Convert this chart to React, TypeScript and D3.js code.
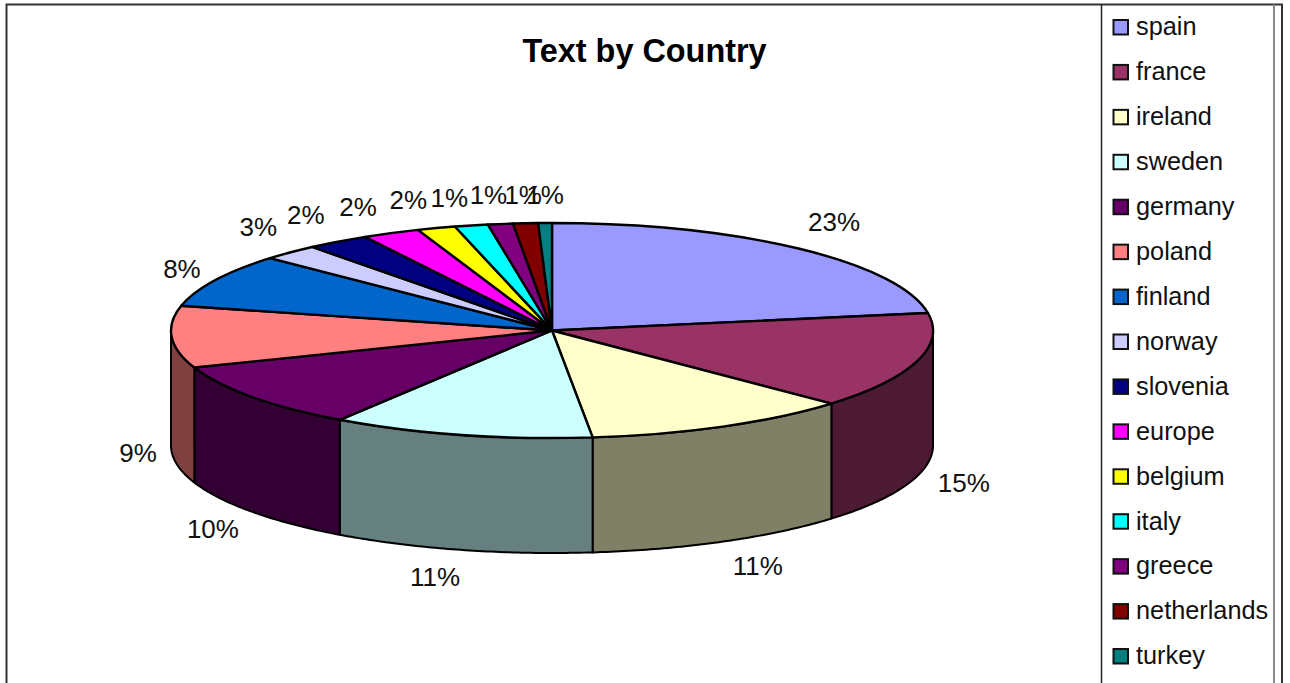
import React from "react";
import * as d3 from "d3";

const countries = ["spain","france","ireland","sweden","germany","poland","finland","norway","slovenia","europe","belgium","italy","greece","netherlands","turkey"];
const shares = [22.4,14.5,11.4,11.1,10.0,9.3,8.04,2.42,2.68,2.44,1.62,1.41,1.06,1.05,0.58];
const percentLabels = ["23%","15%","11%","11%","10%","9%","8%","3%","2%","2%","2%","1%","1%","1%","1%"];
const palette = ["#9999FF","#993366","#FFFFCC","#CCFFFF","#660066","#FF8080","#0066CC","#CCCCFF","#000080","#FF00FF","#FFFF00","#00FFFF","#800080","#800000","#008080"];
const labelNudgeX = [35.5,47,35,-25.7,-39.5,-33.7,-33,-32,-32,-33,-28,-22,-12,-2.4,0];
const labelNudgeY = [-26.5,6,24,27,17.4,1,-11.6,-25.7,-26.6,-26,-28.5,-27.5,-29,-28,-28];

const W = 1290, H = 683;
const cx = 552, cy = 330.5, rx = 381, ry = 107.5, depth = 115;
const font = "'Liberation Sans', Arial, sans-serif";

const px = (t: number) => cx + rx * Math.sin(t);
const py = (t: number) => cy - ry * Math.cos(t);

export default function App() {
  const slices = d3.pie<number>().sort(null)(shares);
  const arc = d3.arc<any>().innerRadius(0).outerRadius(rx);
  const legendY = d3.scaleLinear().domain([0, countries.length - 1]).range([27, 656]);
  const sides = slices.map((s, i) => {
    const a = Math.max(s.startAngle, Math.PI / 2);
    const b = Math.min(s.endAngle, (3 * Math.PI) / 2);
    if (b <= a) return null;
    const p = d3.path();
    const ts = d3.range(0, 61).map((k) => a + ((b - a) * k) / 60);
    ts.forEach((t, k) => (k ? p.lineTo(px(t), py(t)) : p.moveTo(px(t), py(t))));
    ts.slice().reverse().forEach((t) => p.lineTo(px(t), py(t) + depth));
    p.closePath();
    const c = d3.rgb(palette[i]);
    const fill = d3.rgb(c.r / 2, c.g / 2, c.b / 2).formatHex();
    return <path key={i} d={p.toString()} fill={fill} stroke="#000" strokeWidth={2} strokeLinejoin="round" />;
  });
  return (
    <svg width={W} height={H} viewBox={`0 0 ${W} ${H}`} style={{ position: "absolute", left: 0, top: 0, display: "block", background: "#fff" }}>
      <rect x={6.5} y={4.5} width={1275.5} height={H + 10} fill="#fff" stroke="#333" strokeWidth={2} />
      <line x1={1101.5} x2={1101.5} y1={4.5} y2={H} stroke="#222" strokeWidth={1.5} />
      <line x1={1274} x2={1274} y1={4.5} y2={H} stroke="#888" strokeWidth={2} />
      <text x={644.5} y={51} dy="0.35em" textAnchor="middle" fontFamily={font} fontWeight="bold" fontSize={32.4} fill="#000">Text by Country</text>
      <g>{sides}</g>
      <g transform={`translate(${cx},${cy}) scale(1,${ry / rx})`}>
        {slices.map((s, i) => (
          <path key={i} d={arc(s) as string} fill={palette[i]} stroke="#000" strokeWidth={2.4} strokeLinejoin="round" vectorEffect="non-scaling-stroke" />
        ))}
      </g>
      <g fontFamily={font} fontSize={26} fill="#111">
        {slices.map((s, i) => {
          const m = (s.startAngle + s.endAngle) / 2;
          const front = Math.cos(m) < 0 && Math.abs(Math.sin(m)) > 0.05 && m < (3 * Math.PI) / 2;
          const x = px(m) + labelNudgeX[i];
          const y = py(m) + (front ? depth : 0) + labelNudgeY[i];
          return <text key={i} x={x} y={y} dy="0.35em" textAnchor="middle">{percentLabels[i]}</text>;
        })}
      </g>
      <g fontFamily={font} fontSize={25.3} fill="#111">
        {countries.map((c, i) => (
          <g key={c}>
            <rect x={1113.5} y={legendY(i) - 7} width={14.5} height={14.5} fill={palette[i]} stroke="#111" strokeWidth={2} />
            <text x={1136} y={legendY(i)} dy="0.33em">{c}</text>
          </g>
        ))}
      </g>
    </svg>
  );
}
